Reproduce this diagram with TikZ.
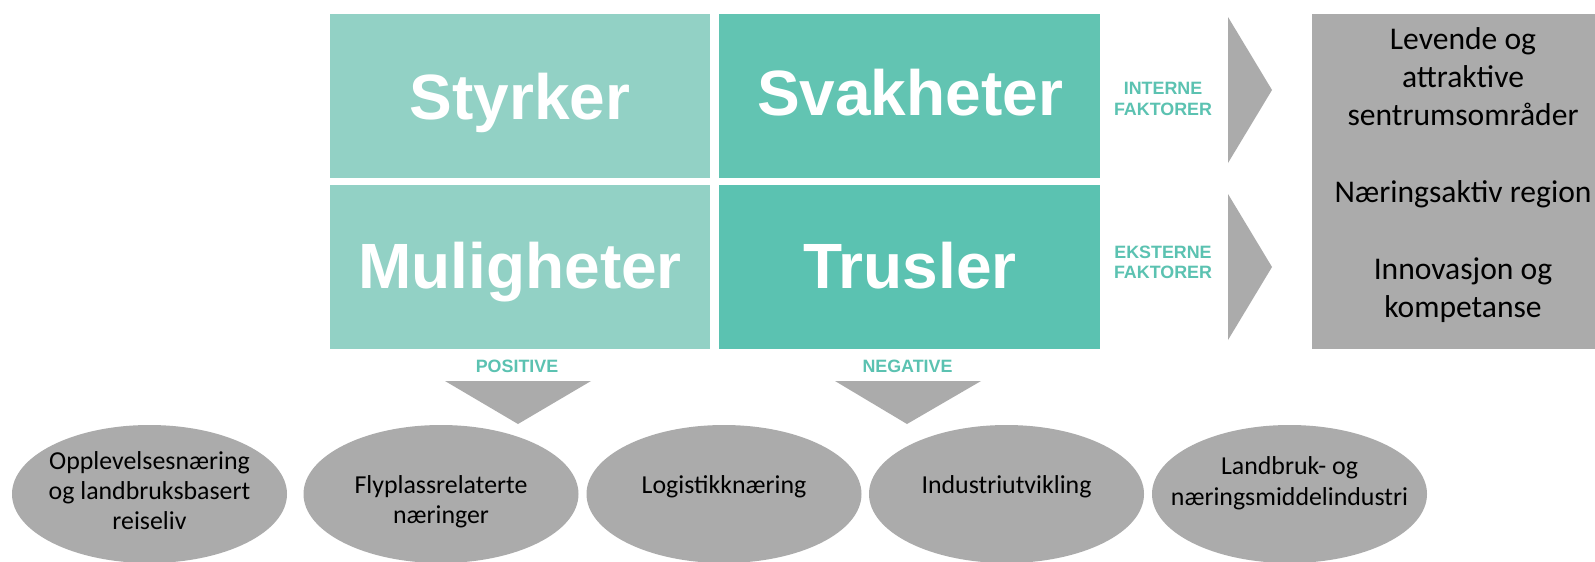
\documentclass[tikz,border=0pt]{standalone}
\usepackage{fontspec}
\setmainfont{Carlito}
\newfontfamily\arialfont{Liberation Sans}
\usetikzlibrary{shapes.geometric}
\definecolor{tealL}{HTML}{92D1C5}
\definecolor{tealM}{HTML}{62C4B2}
\definecolor{tealD}{HTML}{5BC2B1}
\definecolor{grayF}{HTML}{ABABAB}
\begin{document}
\begin{tikzpicture}[x=0.75pt,y=-0.75pt,
  swbox/.style={inner sep=0, outer sep=0, anchor=north west, minimum height=123pt},
  bigtxt/.style={font=\arialfont\bfseries\fontsize{48}{56}\selectfont, text=white, inner sep=0, anchor=base},
  lbl/.style={font=\arialfont\bfseries\fontsize{13.4}{15.3}\selectfont, text=tealD, inner sep=0, align=center},
  ell/.style={ellipse, fill=grayF, inner sep=0, minimum width=206.25pt, minimum height=103.5pt},
  etxt/.style={font=\fontsize{19.4}{22.5}\selectfont, inner sep=0, align=center, anchor=base},
  gtxt/.style={font=\fontsize{23.7}{28.7}\selectfont, inner sep=0, align=center, anchor=base}]
\useasboundingbox (0,0) rectangle (1595,561);
\fill[white] (0,0) rectangle (1595,561);
% SWOT boxes
\node[swbox, fill=tealL, minimum width=285pt] (S) at (330,14) {};
\node[swbox, fill=tealM, minimum width=285.75pt] (W) at (719,14) {};
\node[swbox, fill=tealL, minimum width=285pt] (O) at (330,185) {};
\node[swbox, fill=tealD, minimum width=285.75pt] (T) at (719,185) {};
\node[bigtxt] (tS) at (520,119) {Styrker};
\node[bigtxt] (tW) at (910,115) {Svakheter};
\node[bigtxt] (tO) at (520,288) {Muligheter};
\node[bigtxt] (tT) at (910,288) {Trusler};
% side labels
\node[lbl] (li) at (1163,98.8) {INTERNE\\FAKTORER};
\node[lbl] (le) at (1163,262.5) {EKSTERNE\\FAKTORER};
\node[lbl, anchor=base] (lp) at (517,372) {POSITIVE};
\node[lbl, anchor=base] (ln) at (907.5,372) {NEGATIVE};
% arrows
\fill[grayF] (1228,17) -- (1272,90) -- (1228,163) -- cycle;
\fill[grayF] (1228,194) -- (1272,267) -- (1228,340) -- cycle;
\fill[grayF] (445,381) -- (591,381) -- (518,424) -- cycle;
\fill[grayF] (835,381) -- (981,381) -- (907,424) -- cycle;
% goals box
\node[inner sep=0, outer sep=0, anchor=north west, fill=grayF, minimum width=225pt, minimum height=251.25pt] (G) at (1312,14) {};
\node[gtxt] (gt) at (1463,317.3) {Levende og\\attraktive\\sentrumsområder\\[28.7pt]Næringsaktiv region\\[28.7pt]Innovasjon og\\kompetanse};
% ellipses
\node[ell] (e1) at (149.5,494) {};
\node[ell] (e2) at (441,494) {};
\node[ell] (e3) at (724,494) {};
\node[ell] (e4) at (1006.5,494) {};
\node[ell] (e5) at (1289.5,494) {};
\node[etxt] (t1) at (149.5,529) {Opplevelsesnæring\\og landbruksbasert\\reiseliv};
\node[etxt] (t2) at (441,523) {Flyplassrelaterte\\næringer};
\node[etxt] (t3) at (724,493) {Logistikknæring};
\node[etxt] (t4) at (1006.5,493) {Industriutvikling};
\node[etxt, font=\fontsize{19.4}{23.25}\selectfont] (t5) at (1289.5,505) {Landbruk- og\\næringsmiddelindustri};
\end{tikzpicture}
\end{document}
